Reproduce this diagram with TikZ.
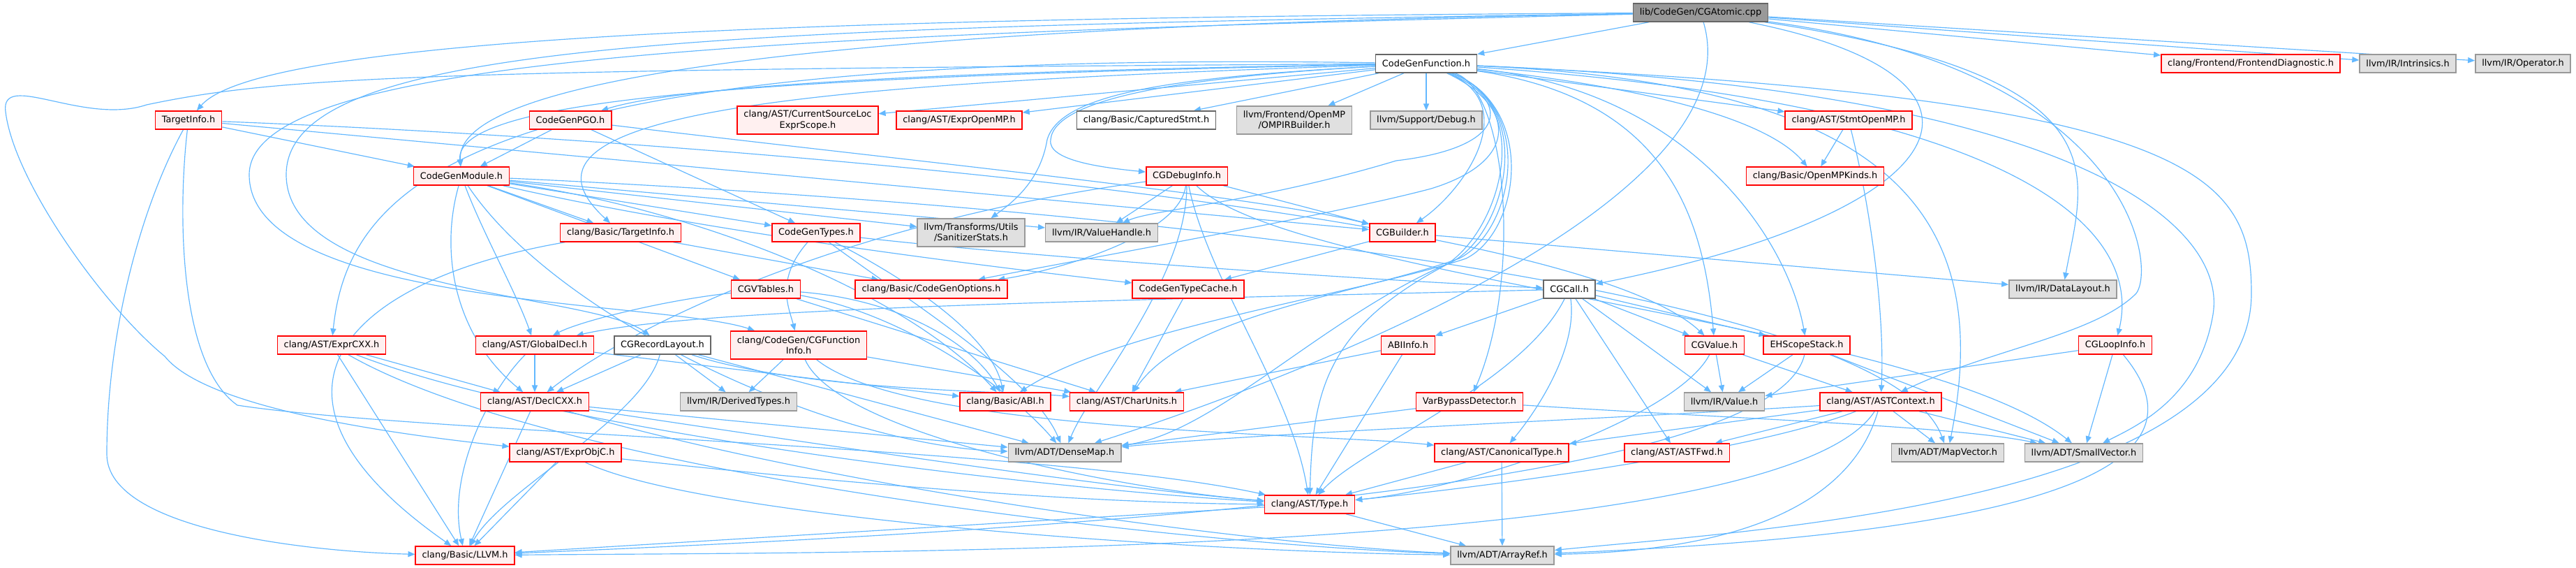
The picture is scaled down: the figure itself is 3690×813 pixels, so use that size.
\documentclass[tikz,border=0pt]{standalone}
\usepackage{fontspec}
\setmainfont{DejaVu Sans}
\usetikzlibrary{arrows.meta,backgrounds}
\definecolor{edgeblue}{HTML}{63B8FF}
\definecolor{redfill}{HTML}{FFF0F0}
\definecolor{grayfill}{HTML}{E0E0E0}
\definecolor{grayline}{HTML}{999999}
\definecolor{darkline}{HTML}{666666}
\tikzset{
  incarr/.style={-{Triangle[length=8.5pt,width=7pt]},line width=1pt,color=edgeblue},
  basecard/.style={rectangle,line width=1.3pt,align=center,inner xsep=8pt,inner ysep=2pt,
    minimum height=0.78cm,font=\fontsize{11pt}{13pt}\selectfont},
  redcard/.style={basecard,draw=red,fill=redfill},
  graycard/.style={basecard,draw=grayline,fill=grayfill},
  whitecard/.style={basecard,draw=darkline,fill=white},
  rootcard/.style={basecard,draw=darkline,fill=grayline},
  twoline/.style={minimum height=1.2cm}
}
\begin{document}
\begin{tikzpicture}[x=0.03cm,y=-0.03cm]
  \useasboundingbox (0,0) rectangle (3690,813);
  % top rows
  \node[rootcard] (cga) at (2436,18) {lib/CodeGen/CGAtomic.cpp};
  \node[whitecard] (cgf) at (2043,91) {CodeGenFunction.h};
  \node[redcard] (fed) at (3224,91) {clang/Frontend/FrontendDiagnostic.h};
  \node[graycard] (intr) at (3449,91) {llvm/IR/Intrinsics.h};
  \node[graycard] (oper) at (3614,91) {llvm/IR/Operator.h};
  \node[redcard] (tinfo) at (270,172) {TargetInfo.h};
  \node[redcard] (pgo) at (817,172) {CodeGenPGO.h};
  \node[redcard,twoline] (csl) at (1157,172) {clang/AST/CurrentSourceLoc\\ExprScope.h};
  \node[redcard] (eomp) at (1374,172) {clang/AST/ExprOpenMP.h};
  \node[whitecard] (capt) at (1642,172) {clang/Basic/CapturedStmt.h};
  \node[graycard,twoline] (ompb) at (1854,172) {llvm/Frontend/OpenMP\\/OMPIRBuilder.h};
  \node[graycard] (dbg) at (2043,172) {llvm/Support/Debug.h};
  \node[redcard] (somp) at (2648,172) {clang/AST/StmtOpenMP.h};
  \node[redcard] (cgm) at (661,252) {CodeGenModule.h};
  \node[redcard] (cgdi) at (1700,252) {CGDebugInfo.h};
  \node[redcard] (ompk) at (2600,252) {clang/Basic/OpenMPKinds.h};
  \node[redcard] (btinfo) at (889,333) {clang/Basic/TargetInfo.h};
  \node[redcard] (cgt) at (1169,333) {CodeGenTypes.h};
  \node[graycard,twoline] (sstat) at (1391,333) {llvm/Transforms/Utils\\/SanitizerStats.h};
  \node[graycard] (vh) at (1578,333) {llvm/IR/ValueHandle.h};
  \node[redcard] (cgb) at (2009,333) {CGBuilder.h};
  % middle rows
  \node[redcard] (vtab) at (1097,414) {CGVTables.h};
  \node[redcard] (cgopt) at (1334,414) {clang/Basic/CodeGenOptions.h};
  \node[redcard] (tcache) at (1702,414) {CodeGenTypeCache.h};
  \node[whitecard] (cgcall) at (2248,414) {CGCall.h};
  \node[graycard] (dl) at (2955,414) {llvm/IR/DataLayout.h};
  \node[redcard] (excxx) at (475,494) {clang/AST/ExprCXX.h};
  \node[redcard] (gdecl) at (766,494) {clang/AST/GlobalDecl.h};
  \node[whitecard] (rlay) at (949,494) {CGRecordLayout.h};
  \node[redcard,twoline] (finfo) at (1144,494) {clang/CodeGen/CGFunction\\Info.h};
  \node[redcard] (abiinfo) at (2017,494) {ABIInfo.h};
  \node[redcard] (cgval) at (2456,494) {CGValue.h};
  \node[redcard] (ehs) at (2588,494) {EHScopeStack.h};
  \node[redcard] (loop) at (3030,494) {CGLoopInfo.h};
  \node[redcard] (dcxx) at (766,575) {clang/AST/DeclCXX.h};
  \node[graycard] (dtypes) at (1058,575) {llvm/IR/DerivedTypes.h};
  \node[redcard] (abi) at (1440,575) {clang/Basic/ABI.h};
  \node[redcard] (cu) at (1614,575) {clang/AST/CharUnits.h};
  \node[redcard] (vbd) at (2105,575) {VarBypassDetector.h};
  \node[graycard] (val) at (2470,575) {llvm/IR/Value.h};
  \node[redcard] (astc) at (2694,575) {clang/AST/ASTContext.h};
  % bottom rows
  \node[redcard] (eobjc) at (810,648) {clang/AST/ExprObjC.h};
  \node[graycard] (dmap) at (1525,648) {llvm/ADT/DenseMap.h};
  \node[redcard] (canon) at (2151,648) {clang/AST/CanonicalType.h};
  \node[redcard] (afwd) at (2402,648) {clang/AST/ASTFwd.h};
  \node[graycard] (mvec) at (2790,648) {llvm/ADT/MapVector.h};
  \node[graycard] (svec) at (2985,648) {llvm/ADT/SmallVector.h};
  \node[redcard] (type) at (1876,722) {clang/AST/Type.h};
  \node[redcard] (llvmh) at (666,795) {clang/Basic/LLVM.h};
  \node[graycard] (aref) at (2152,795) {llvm/ADT/ArrayRef.h};

  \begin{pgfonlayer}{background}
  \fill[white] (0,0) rectangle (3690,813);
  % CGAtomic.cpp
  \draw[incarr] (cga) -- (cgf);
  \draw[incarr] (cga) -- (fed);
  \draw[incarr] (cga) -- (intr);
  \draw[incarr] (cga) -- (oper);
  \draw[incarr] (cga) .. controls (1300,25) and (380,45) .. (tinfo);
  \draw[incarr] (cga) .. controls (1400,35) and (650,90) .. (cgm);
  \draw[incarr] (cga) .. controls (1000,40) and (410,60) .. (410,250) .. controls (410,420) and (850,420) .. (rlay);
  \draw[incarr] (cga) .. controls (1100,50) and (357,80) .. (357,250) .. controls (357,440) and (950,430) .. (finfo);
  \draw[incarr] (cga) .. controls (3050,110) and (2985,250) .. (dl);
  \draw[incarr] (cga) .. controls (3050,100) and (3090,380) .. (3060,420) .. controls (3000,480) and (2850,500) .. (astc);
  \draw[incarr] (cga) .. controls (2900,110) and (2820,300) .. (cgcall);
  \draw[incarr] (cga) .. controls (2520,300) and (1800,560) .. (dmap);
  % CodeGenFunction.h
  \draw[incarr] (cgf) .. controls (1500,100) and (1000,115) .. (pgo);
  \draw[incarr] (cgf) -- (csl);
  \draw[incarr] (cgf) -- (eomp);
  \draw[incarr] (cgf) -- (capt);
  \draw[incarr] (cgf) -- (ompb);
  \draw[incarr] (cgf) -- (dbg);
  \draw[incarr] (cgf) -- (somp);
  \draw[incarr] (cgf) .. controls (2400,130) and (2540,180) .. (ompk);
  \draw[incarr] (cgf) .. controls (1100,110) and (650,140) .. (cgm);
  \draw[incarr] (cgf) .. controls (1150,120) and (700,160) .. (btinfo);
  \draw[incarr] (cgf) .. controls (1700,110) and (1510,140) .. (1505,200) .. controls (1500,230) and (1580,240) .. (cgdi);
  \draw[incarr] (cgf) .. controls (2180,150) and (2100,270) .. (cgb);
  \draw[incarr] (cgf) .. controls (2380,140) and (2440,300) .. (cgval);
  \draw[incarr] (cgf) .. controls (2420,130) and (2560,340) .. (ehs);
  \draw[incarr] (cgf) .. controls (2900,150) and (3070,330) .. (loop);
  \draw[incarr] (cgf) .. controls (3000,130) and (3190,330) .. (3170,450) .. controls (3150,570) and (3060,610) .. (svec);
  \draw[incarr] (cgf) .. controls (3150,140) and (3225,250) .. (3225,420) .. controls (3225,720) and (2500,760) .. (aref);
  \draw[incarr] (cgf) .. controls (2700,120) and (2860,300) .. (mvec);
  \draw[incarr] (cgf) .. controls (2160,130) and (2180,400) .. (vbd);
  \draw[incarr] (cgf) .. controls (2200,150) and (2150,330) .. (2070,380) .. controls (1900,470) and (1880,560) .. (type);
  \draw[incarr] (cgf) .. controls (2200,150) and (2170,330) .. (2090,370) .. controls (1950,420) and (1700,450) .. (cu);
  \draw[incarr] (cgf) .. controls (2200,150) and (2180,330) .. (2100,370) .. controls (1950,420) and (1600,470) .. (abi);
  \draw[incarr] (cgf) .. controls (2170,150) and (2180,230) .. (2050,270) .. controls (1900,310) and (1500,380) .. (cgopt);
  \draw[incarr] (cgf) .. controls (700,70) and (500,250) .. (excxx);
  \draw[incarr] (cgf) .. controls (600,100) and (400,110) .. (210,150) .. controls (120,180) and (0,100) .. (8,160)
    .. controls (20,260) and (150,440) .. (236,510) .. controls (300,590) and (600,625) .. (eobjc);
  \draw[incarr] (cgf) .. controls (2200,150) and (2160,330) .. (2080,375) .. controls (1900,450) and (1740,620) .. (dmap);
  \draw[incarr] (cgf) .. controls (2160,140) and (2170,210) .. (2000,230) .. controls (1800,290) and (1650,300) .. (vh);
  \draw[incarr] (cgf) .. controls (1700,110) and (1520,130) .. (1500,200) .. controls (1490,260) and (1450,290) .. (sstat);
  % CodeGenModule.h
  \draw[incarr] (cgm) -- (btinfo);
  \draw[incarr] (cgm) -- (cgt);
  \draw[incarr] (cgm) -- (vtab);
  \draw[incarr] (cgm) .. controls (1000,330) and (1400,380) .. (tcache);
  \draw[incarr] (cgm) .. controls (630,360) and (650,480) .. (dcxx);
  \draw[incarr] (cgm) .. controls (690,330) and (740,420) .. (gdecl);
  \draw[incarr] (cgm) .. controls (1000,300) and (1300,420) .. (abi);
  \draw[incarr] (cgm) .. controls (800,460) and (1200,640) .. (dmap);
  \draw[incarr] (cgm) -- (vh);
  \draw[incarr] (cgm) -- (sstat);
  \draw[incarr] (cgm) .. controls (1500,290) and (2700,400) .. (mvec);
  % CodeGenPGO.h
  \draw[incarr] (pgo) -- (cgm);
  \draw[incarr] (pgo) .. controls (1300,230) and (1800,280) .. (cgb);
  \draw[incarr] (pgo) -- (cgt);
  % TargetInfo.h
  \draw[incarr] (tinfo) -- (cgm);
  \draw[incarr] (tinfo) -- (cgb);
  \draw[incarr] (tinfo) .. controls (1000,200) and (2250,300) .. (cgval);
  \draw[incarr] (tinfo) .. controls (255,300) and (255,520) .. (340,580) .. controls (600,620) and (1500,640) .. (type);
  \draw[incarr] (tinfo) .. controls (200,300) and (153,480) .. (153,650) .. controls (153,760) and (450,790) .. (llvmh);
  % CGDebugInfo.h
  \draw[incarr] (cgdi) -- (cgb);
  \draw[incarr] (cgdi) -- (vh);
  \draw[incarr] (cgdi) .. controls (1200,320) and (900,470) .. (dcxx);
  \draw[incarr] (cgdi) .. controls (1730,400) and (1850,560) .. (type);
  \draw[incarr] (cgdi) .. controls (1690,340) and (1500,390) .. (cgopt);
  \draw[incarr] (cgdi) .. controls (1700,400) and (1560,560) .. (dmap);
  \draw[incarr] (cgdi) .. controls (1850,400) and (2750,460) .. (svec);
  % StmtOpenMP.h, clang/Basic/TargetInfo.h
  \draw[incarr] (somp) -- (ompk);
  \draw[incarr] (somp) .. controls (2680,300) and (2700,450) .. (astc);
  \draw[incarr] (btinfo) -- (cgopt);
  \draw[incarr] (btinfo) .. controls (500,400) and (330,560) .. (llvmh);
  % CodeGenTypes.h, CGBuilder.h
  \draw[incarr] (cgt) .. controls (1500,370) and (1950,400) .. (cgcall);
  \draw[incarr] (cgt) .. controls (1300,400) and (1420,480) .. (abi);
  \draw[incarr] (cgt) .. controls (1110,400) and (1130,440) .. (finfo);
  \draw[incarr] (cgt) .. controls (1300,430) and (1480,540) .. (dmap);
  \draw[incarr] (cgb) -- (tcache);
  \draw[incarr] (cgb) -- (dl);
  % CGVTables.h, CodeGenTypeCache.h
  \draw[incarr] (vtab) .. controls (950,430) and (830,460) .. (gdecl);
  \draw[incarr] (vtab) .. controls (1300,430) and (1400,500) .. (abi);
  \draw[incarr] (vtab) -- (cu);
  \draw[incarr] (vtab) .. controls (1300,450) and (1450,560) .. (dmap);
  \draw[incarr] (tcache) -- (cu);
  % CGCall.h
  \draw[incarr] (cgcall) -- (abiinfo);
  \draw[incarr] (cgcall) -- (cgval);
  \draw[incarr] (cgcall) -- (ehs);
  \draw[incarr] (cgcall) -- (afwd);
  \draw[incarr] (cgcall) .. controls (2260,500) and (2200,590) .. (canon);
  \draw[incarr] (cgcall) -- (val);
  \draw[incarr] (cgcall) .. controls (1600,430) and (1000,440) .. (gdecl);
  \draw[incarr] (cgcall) .. controls (2180,550) and (1950,640) .. (type);
  % CGRecordLayout.h, CGFunctionInfo.h, ABIInfo.h
  \draw[incarr] (rlay) .. controls (1150,560) and (1450,560) .. (cu);
  \draw[incarr] (rlay) -- (dcxx);
  \draw[incarr] (rlay) -- (dtypes);
  \draw[incarr] (rlay) .. controls (920,600) and (720,700) .. (llvmh);
  \draw[incarr] (rlay) -- (dmap);
  \draw[incarr] (finfo) .. controls (1300,620) and (1900,620) .. (canon);
  \draw[incarr] (finfo) -- (cu);
  \draw[incarr] (finfo) .. controls (1200,620) and (1600,700) .. (type);
  \draw[incarr] (finfo) -- (dtypes);
  \draw[incarr] (abiinfo) -- (cu);
  \draw[incarr] (abiinfo) -- (type);
  % GlobalDecl.h, DeclCXX.h, ExprCXX.h, ExprObjC.h
  \draw[incarr] (gdecl) -- (dcxx);
  \draw[incarr] (gdecl) -- (abi);
  \draw[incarr] (gdecl) .. controls (700,560) and (640,680) .. (llvmh);
  \draw[incarr] (dcxx) .. controls (1200,640) and (1600,700) .. (type);
  \draw[incarr] (dcxx) -- (llvmh);
  \draw[incarr] (dcxx) .. controls (1200,700) and (1800,780) .. (aref);
  \draw[incarr] (dcxx) -- (dmap);
  \draw[incarr] (excxx) -- (dcxx);
  \draw[incarr] (excxx) -- (llvmh);
  \draw[incarr] (excxx) .. controls (800,620) and (1500,700) .. (type);
  \draw[incarr] (excxx) .. controls (800,680) and (1700,780) .. (aref);
  \draw[incarr] (eobjc) -- (llvmh);
  \draw[incarr] (eobjc) .. controls (1100,680) and (1500,720) .. (type);
  \draw[incarr] (eobjc) .. controls (1000,740) and (1700,790) .. (aref);
  % CGValue.h, EHScopeStack.h, CGLoopInfo.h, VarBypassDetector.h
  \draw[incarr] (cgval) -- (astc);
  \draw[incarr] (cgval) .. controls (2400,600) and (2100,700) .. (type);
  \draw[incarr] (cgval) -- (val);
  \draw[incarr] (ehs) -- (val);
  \draw[incarr] (ehs) -- (svec);
  \draw[incarr] (ehs) .. controls (2540,700) and (1500,760) .. (llvmh);
  \draw[incarr] (loop) -- (svec);
  \draw[incarr] (loop) .. controls (3160,650) and (3000,760) .. (aref);
  \draw[incarr] (loop) -- (val);
  \draw[incarr] (vbd) -- (dmap);
  \draw[incarr] (vbd) .. controls (2500,600) and (2800,610) .. (svec);
  % ASTContext.h, CanonicalType.h, Type.h
  \draw[incarr] (astc) -- (afwd);
  \draw[incarr] (astc) -- (canon);
  \draw[incarr] (astc) -- (mvec);
  \draw[incarr] (astc) -- (svec);
  \draw[incarr] (astc) .. controls (2500,650) and (2100,700) .. (type);
  \draw[incarr] (astc) .. controls (2550,800) and (1200,790) .. (llvmh);
  \draw[incarr] (astc) .. controls (2640,760) and (2400,790) .. (aref);
  \draw[incarr] (astc) .. controls (2300,600) and (1800,620) .. (dmap);
  \draw[incarr] (canon) -- (type);
  \draw[incarr] (canon) -- (aref);
  \draw[incarr] (type) -- (llvmh);
  \draw[incarr] (type) -- (aref);
  \end{pgfonlayer}
\end{tikzpicture}
\end{document}
